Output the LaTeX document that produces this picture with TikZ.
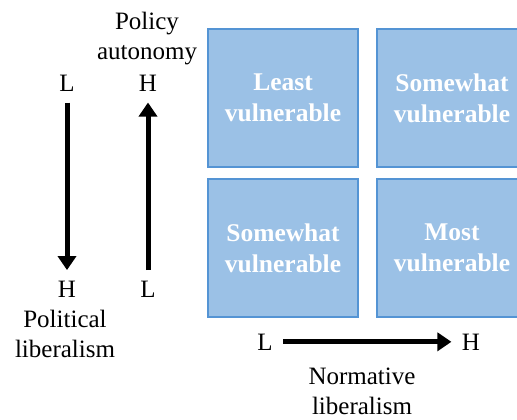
\documentclass[tikz,border=0pt]{standalone}
\usepackage{fontspec}
\setmainfont{Liberation Serif}
\usepackage{tikz}
\usetikzlibrary{arrows.meta, positioning}
\definecolor{bleupale}{RGB}{155,193,230}
\definecolor{bleubord}{RGB}{84,148,212}

\begin{document}
\begin{tikzpicture}[x=1pt, y=-1pt, font=\fontsize{25}{30}\selectfont,
		quadrant/.style={draw=bleubord, line width=2.2pt, fill=bleupale, minimum width=150pt, minimum height=138pt, inner sep=0pt, text=white, align=center, font=\fontsize{25.5}{31}\selectfont\bfseries},
		niveau/.style={anchor=base},
		titre/.style={align=center},
		fleche/.style={line width=5pt, -{Triangle[length=14pt, width=18pt]}, shorten <=7pt, shorten >=7pt}]
	\useasboundingbox (0,0) rectangle (517,420);
	
	% Quadrants
	\node[quadrant] (least) at (283,98) {Least\\vulnerable};
	\node[quadrant] (somewhatA) at (452,98) {Somewhat\\vulnerable};
	\node[quadrant] (somewhatB) at (283,248) {Somewhat\\vulnerable};
	\node[quadrant] (most) at (452,248) {Most\\vulnerable};
	
	% Liberalisme politique
	\node[niveau] (polL) at (67,92) {L};
	\node[niveau] (polH) at (67,297) {H};
	\node[titre] (polTitre) at (65,333.5) {Political\\liberalism};
	\draw[fleche] (polL) -- (polH);
	
	% Autonomie
	\node[niveau] (autH) at (148,92) {H};
	\node[niveau] (autL) at (148,297) {L};
	\node[titre] (autTitre) at (147,39) {Policy\\autonomy};
	\draw[fleche] (autL) -- (autH);
	
	% Liberalisme normatif
	\node[niveau] (normL) at (265,350) {L};
	\node[niveau] (normH) at (471,350) {H};
	\node[titre] (normTitre) at (362,391.5) {Normative\\liberalism};
	\draw[fleche] (normL) -- (normH);
\end{tikzpicture}
\end{document}
